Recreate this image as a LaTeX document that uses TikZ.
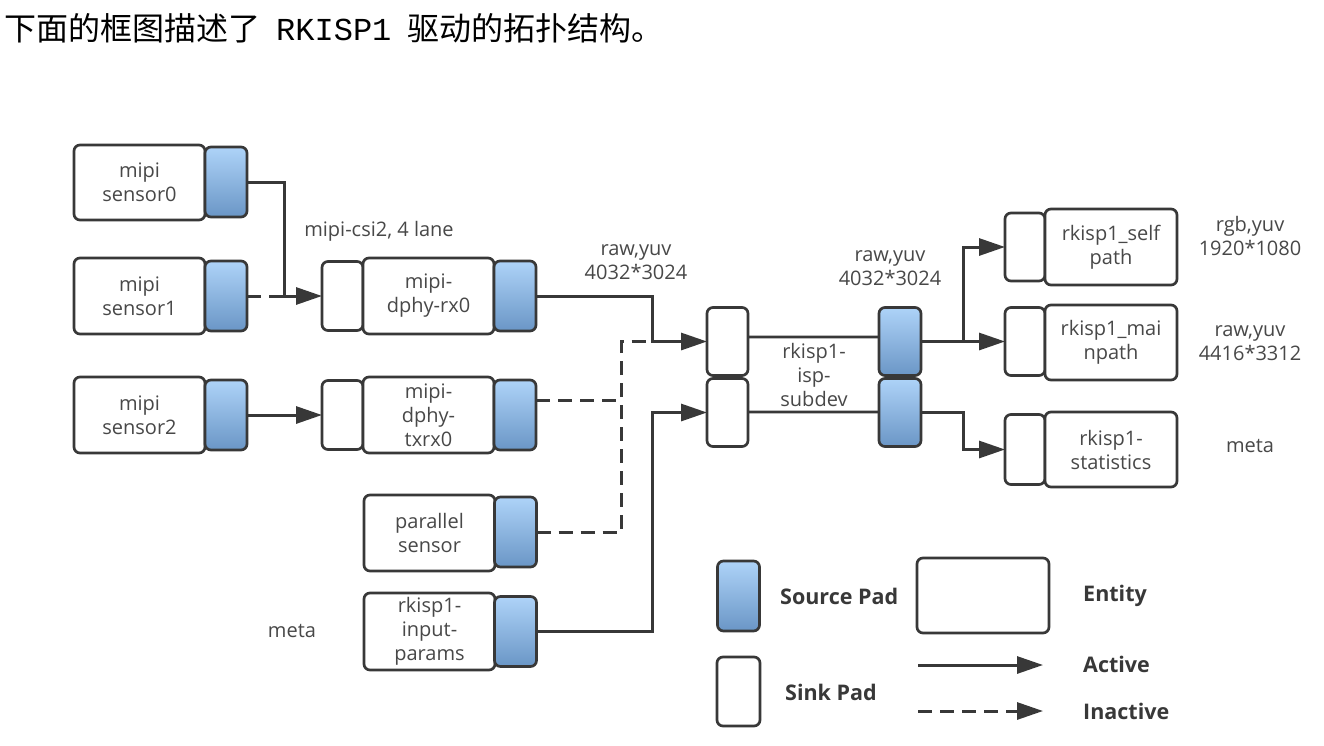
\documentclass[tikz,border=0pt]{standalone}
\usepackage{fontspec}
\setmainfont{Open Sans}
\newfontfamily\cjk{Noto Sans CJK SC}
\newfontfamily\monofnt{Liberation Mono}
\usetikzlibrary{arrows.meta}
\definecolor{ln}{HTML}{383838}
\definecolor{tx}{HTML}{484848}
\definecolor{padtop}{HTML}{AED3F8}
\definecolor{padbot}{HTML}{6A96C6}
\newcommand\lblfont{\fontsize{20}{24}\selectfont}
\newcommand\legfont{\fontsize{21.5}{24}\selectfont\bfseries}
\tikzset{
  entity/.style={draw=ln, line width=2.7pt, rounded corners=6pt, fill=white, minimum width=131pt, minimum height=76pt, inner sep=0pt, outer sep=0pt, align=center, text=tx, font=\lblfont},
  srcpad/.style={draw=ln, line width=2.7pt, rounded corners=6pt, top color=padtop, bottom color=padbot, minimum width=42pt, minimum height=70pt, inner sep=0pt, outer sep=0pt},
  sinkpad/.style={draw=ln, line width=2.7pt, rounded corners=6pt, fill=white, minimum width=41pt, minimum height=69pt, inner sep=0pt, outer sep=0pt},
  tip/.style={-{Triangle[length=26pt,width=17pt]}},
  active/.style={draw=ln, line width=3pt, tip},
  inactive/.style={draw=ln, line width=3pt, dash pattern=on 14pt off 8pt},
  lbl/.style={text=tx, align=center, font=\lblfont, inner sep=0pt},
  legtxt/.style={text=ln, font=\legfont, anchor=west, inner sep=0pt},
}
\begin{document}
\begin{tikzpicture}[x=1pt,y=-1pt]
\useasboundingbox[fill=white] (0,0) rectangle (1324,745);
% title
\node[anchor=west, inner sep=0pt] (title) at (4,28) {\fontsize{32}{32}\selectfont\cjk 下面的框图描述了\hspace{16pt}{\monofnt RKISP1}\hspace{16pt}驱动的拓扑结构。};

% sensors
\node[entity, minimum height=75pt] (s0) at (139.5,182.5) {mipi\\sensor0};
\node[srcpad] (s0p) at (226,182) {};
\node[entity] (s1) at (139.5,296) {mipi\\sensor1};
\node[srcpad] (s1p) at (226,296) {};
\node[entity] (s2) at (139.5,415) {mipi\\sensor2};
\node[srcpad] (s2p) at (226,415) {};

% dphy
\node[sinkpad] (rx0s) at (342.5,296) {};
\node[entity] (rx0) at (428.5,296) {mipi-\\dphy-rx0};
\node[srcpad] (rx0p) at (515,296) {};
\node[sinkpad] (txs) at (342.5,415) {};
\node[entity] (tx) at (428.5,415) {mipi-\\dphy-\\txrx0};
\node[srcpad] (txp) at (515,415) {};

% parallel, input params
\node[entity] (par) at (429.5,533) {parallel\\sensor};
\node[srcpad] (parp) at (515.5,532) {};
\node[entity, minimum height=77pt] (inp) at (429.5,631.5) {rkisp1-\\input-\\params};
\node[srcpad] (inpp) at (515.5,631.5) {};

% isp
\node[entity, minimum width=146pt, minimum height=75pt] (isp) at (814,374.5) {rkisp1-\\isp-\\subdev};
\node[sinkpad, minimum height=68pt] (ispk1) at (727.5,341.5) {};
\node[sinkpad, minimum height=68pt] (ispk2) at (727.5,412.5) {};
\node[srcpad, minimum height=68pt] (ispo1) at (900,341.5) {};
\node[srcpad, minimum height=68pt] (ispo2) at (900,412.5) {};

% outputs
\node[sinkpad, minimum width=40pt, minimum height=68pt] (selfs) at (1025,247) {};
\node[entity, minimum width=132pt] (self) at (1111,247) {rkisp1\_self\\path};
\node[sinkpad, minimum width=40pt, minimum height=68pt] (mains) at (1025,341.5) {};
\node[entity, minimum width=132pt, minimum height=75pt] (main) at (1111,342.5) {rkisp1\_mai\\npath};
\node[sinkpad, minimum width=40pt, minimum height=70pt] (stats) at (1025,449.5) {};
\node[entity, minimum width=132pt, minimum height=75pt] (stat) at (1111,449.5) {rkisp1-\\statistics};

% labels
\node[lbl] (csi) at (379,231) {mipi-csi2, 4 lane};
\node[lbl] (fmt1) at (636,262) {raw,yuv\\4032*3024};
\node[lbl] (fmt2) at (890,268) {raw,yuv\\4032*3024};
\node[lbl] (fmt3) at (1250,236) {rgb,yuv\\1920*1080};
\node[lbl] (fmt4) at (1250,343) {raw,yuv\\4416*3312};
\node[lbl] (meta1) at (1250,446) {meta};
\node[lbl] (meta2) at (292,631) {meta};

% connectors
\coordinate (j1) at (284,296);
\draw[active] (s0p.east) -| (j1) -- (rx0s.west);
\draw[inactive] (s1p.east) -- (j1);
\draw[active] (s2p.east) -- (txs.west);
\coordinate (j2) at (652,341.5);
\coordinate (j3) at (621,400);
\draw[inactive] ([yshift=15pt]txp.east) -- (j3) |- (j2);
\draw[inactive] (parp.east) -| (j3);
\draw[active] (rx0p.east) -| (j2) -- (ispk1.west);
\coordinate (j5) at (652,412.5);
\draw[active] (inpp.east) -| (j5) -- (ispk2.west);
\coordinate (j6) at (963,341.5);
\draw[active] (ispo1.east) -- (mains.west);
\draw[active] (j6) |- (selfs.west);
\coordinate (j7) at (963,449.5);
\draw[active] (ispo2.east) -| (j7) -- (stats.west);

% legend
\node[srcpad] (lsrc) at (738.5,596) {};
\node[sinkpad, minimum width=43pt] (lsink) at (738.5,691.5) {};
\node[entity, minimum width=132pt, minimum height=75pt] (lent) at (983,595.5) {};
\node[legtxt] (tsrc) at (780,596) {Source Pad};
\node[legtxt] (tsink) at (785,692) {Sink Pad};
\node[legtxt] (tent) at (1083,596) {Entity};
\node[legtxt] (tact) at (1083,664) {Active};
\node[legtxt] (tina) at (1083,711) {Inactive};
\coordinate (la) at (918,665);
\coordinate (lb) at (1043,665);
\coordinate (lc) at (918,711);
\coordinate (ld) at (1043,711);
\draw[active] (la) -- (lb);
\draw[inactive, tip] (lc) -- (ld);
\end{tikzpicture}
\end{document}
